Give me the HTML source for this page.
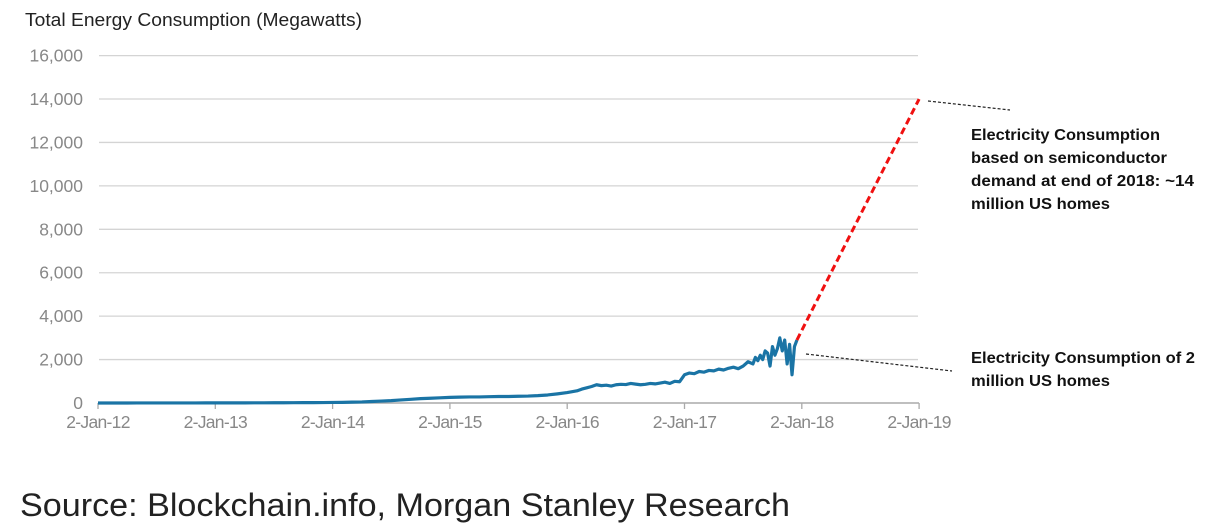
<!DOCTYPE html>
<html><head><meta charset="utf-8"><style>
html,body{margin:0;padding:0;background:#fff;}
svg{display:block;font-family:"Liberation Sans",sans-serif;}
</style></head><body>
<svg id="chart" width="1210" height="532" viewBox="0 0 1210 532">
<text x="25" y="26" font-size="18" fill="#222" textLength="337" lengthAdjust="spacingAndGlyphs">Total Energy Consumption (Megawatts)</text>
<g id="grid"></g><g id="yticks"></g><g id="xticks"></g><g id="series"></g>
<line x1="928" y1="101" x2="1010" y2="110" stroke="#222" stroke-width="1.2" stroke-dasharray="3,2"/>
<line x1="806" y1="354" x2="952" y2="371" stroke="#222" stroke-width="1.2" stroke-dasharray="3,2"/>
<g font-weight="bold" font-size="15.5" fill="#111">
<text x="971" y="140" textLength="189" lengthAdjust="spacingAndGlyphs">Electricity Consumption</text>
<text x="971" y="163" textLength="196" lengthAdjust="spacingAndGlyphs">based on semiconductor</text>
<text x="971" y="186" textLength="223" lengthAdjust="spacingAndGlyphs">demand at end of 2018: ~14</text>
<text x="971" y="209" textLength="139" lengthAdjust="spacingAndGlyphs">million US homes</text>
</g>
<g font-weight="bold" font-size="15.5" fill="#111">
<text x="971" y="363" textLength="224" lengthAdjust="spacingAndGlyphs">Electricity Consumption of 2</text>
<text x="971" y="386" textLength="139" lengthAdjust="spacingAndGlyphs">million US homes</text>
</g>
<text x="20" y="516" font-size="32" fill="#222" textLength="770" lengthAdjust="spacingAndGlyphs">Source: Blockchain.info, Morgan Stanley Research</text>
</svg>
<script>
const yTicks=[0,2000,4000,6000,8000,10000,12000,14000,16000];
const xTickLabels=["2-Jan-12","2-Jan-13","2-Jan-14","2-Jan-15","2-Jan-16","2-Jan-17","2-Jan-18","2-Jan-19"];
const months=[0,1,2,3,4,5,6,7,8,9,10,11,12,13,14,15,16,17,18,19,20,21,22,23,24,25,26,27,28,29,30,31,32,33,34,35,36,37,38,39,40,41,42,43,44,45,46,47,
48,48.5,49,49.5,50,50.5,51,51.5,52,52.5,53,53.5,54,54.5,55,55.5,56,56.5,57,57.5,58,58.5,59,59.5,
60,60.5,61,61.5,62,62.5,63,63.5,64,64.5,65,65.5,66,66.5,
67,67.25,67.5,67.75,68,68.25,68.5,68.75,69,69.25,69.5,69.75,70,70.25,70.5,70.75,71,71.25,71.5];
const values=[1,1,1,1,2,2,2,3,3,3,4,5,5,6,6,7,8,9,10,12,14,16,18,20,25,30,40,50,70,90,110,140,170,200,220,240,260,270,280,280,290,300,300,310,320,340,370,420,
480,520,560,640,700,760,840,800,820,780,840,860,850,900,870,840,860,900,880,920,960,900,1000,980,
1300,1380,1350,1450,1420,1500,1480,1560,1520,1600,1650,1580,1700,1900,
1800,2100,1950,2200,2000,2400,2300,1700,2600,2200,2500,3000,2400,2900,1800,2700,1300,2600,2900];
const projMonths=[71.5,84];
const projValues=[2900,14000];
const NS="http://www.w3.org/2000/svg";
const x=m=>98+m/12*117.3;
const y=v=>403-v*0.021712;
function mk(tag,attrs,parent){const e=document.createElementNS(NS,tag);for(const k in attrs)e.setAttribute(k,attrs[k]);document.getElementById(parent).appendChild(e);return e;}
yTicks.forEach(v=>{
  if(v>0){const g=mk('line',{x1:99,x2:918,y1:y(v),y2:y(v),stroke:'#d4d4d4','stroke-width':1.3},'grid');
  
  }
  const t=mk('text',{x:83,y:y(v)+6,'text-anchor':'end','font-size':17.5,fill:'#888'},'yticks');
  t.textContent=v.toLocaleString('en-US');
  
  
});
const ax=mk('line',{x1:98,x2:919,y1:y(0),y2:y(0),stroke:'#aaa','stroke-width':1.5},'xticks');


xTickLabels.forEach((lab,i)=>{
  const tk=mk('line',{x1:x(i*12),x2:x(i*12),y1:y(0),y2:y(0)+6,stroke:'#aaa','stroke-width':1.3},'xticks');
  
  
  const t=mk('text',{x:x(i*12),y:428,'text-anchor':'middle','font-size':17.5,fill:'#888','letter-spacing':'-0.7'},'xticks');
  t.textContent=lab;
  
  
});
const p=mk('polyline',{points:months.map((m,i)=>x(m)+','+y(values[i])).join(' '),fill:'none',stroke:'#1a74a5','stroke-width':3.2,'stroke-linejoin':'round'},'series');


const r=mk('polyline',{points:projMonths.map((m,i)=>x(m)+','+y(projValues[i])).join(' '),fill:'none',stroke:'#f01010','stroke-width':3,'stroke-dasharray':'7,4'},'series');


</script>
</body></html>
